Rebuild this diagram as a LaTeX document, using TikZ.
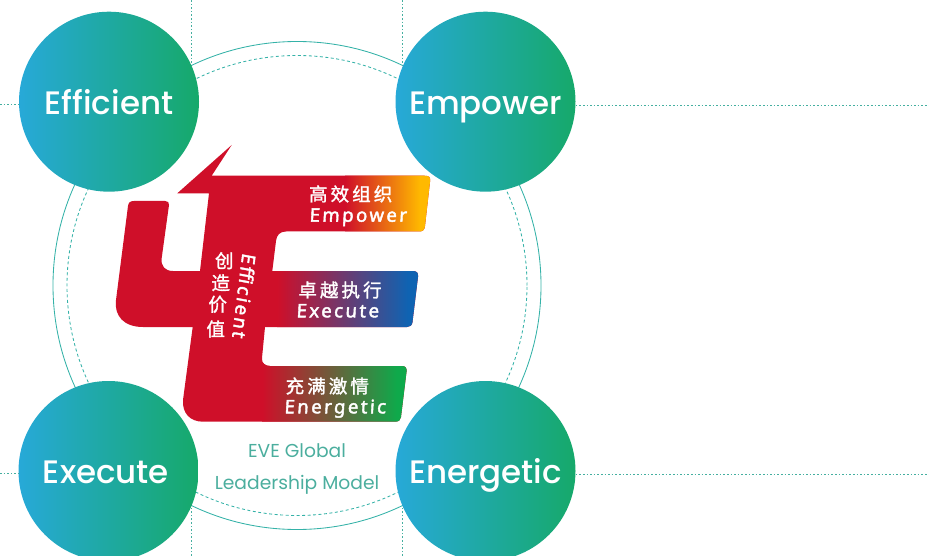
\documentclass[tikz,border=0pt]{standalone}
\usepackage{fontspec}
\setmainfont{Poppins}
\newfontfamily\bubf{Poppins Medium}
\newfontfamily\cjk[FakeBold=1.5]{Noto Sans CJK SC}
\newfontfamily\lat[FakeSlant=0.06,FakeBold=2.2,LetterSpace=13]{Noto Sans}
\definecolor{cblue}{HTML}{27A9D8}
\definecolor{cgreen}{HTML}{16A96A}
\definecolor{ring}{HTML}{35B2A8}
\definecolor{dots}{HTML}{45AFA0}
\definecolor{lab}{HTML}{4BAE9E}
\definecolor{redm}{HTML}{CF0F29}
\definecolor{amber}{HTML}{FFB900}
\definecolor{blu}{HTML}{0F63B2}
\definecolor{grn}{HTML}{0FA94B}
\tikzset{
  bub/.style={circle,minimum size=180pt,inner sep=0pt,left color=cblue,right color=cgreen,draw=none,text=white,text height=25pt,text depth=0pt,font=\bubf\fontsize{32.5}{33}\selectfont},
  dotline/.style={draw=dots,line width=0.9pt,dash pattern=on 1.6pt off 2pt},
  cn/.style={text=white,font=\cjk\fontsize{18.5}{19}\selectfont,inner sep=0pt},
  en/.style={text=white,font=\lat\fontsize{18.6}{19}\selectfont,inner sep=0pt},
  model/.style={text=lab,font=\fontsize{18.7}{19}\selectfont,inner sep=0pt,anchor=base}
}
\newcommand{\fourE}{(231.7,145) -- (211.7,175.7) -- (424,175.7)
  .. controls (429,175.7) and (431,177) .. (430,182) -- (425,226)
  .. controls (424.5,230) and (423,231.5) .. (419,231.5) -- (286,231.5)
  .. controls (280,231.5) and (276.5,235) .. (276,241) -- (272.3,271) -- (413,271)
  .. controls (417,271) and (418.5,273) .. (418,277) -- (412.5,322)
  .. controls (412,325.5) and (410,327) .. (407,327) -- (265,327) -- (262,358)
  .. controls (261.5,363) and (265,366) .. (270,366) -- (402,366)
  .. controls (405.5,366) and (407,368) .. (406.5,372) -- (401,417)
  .. controls (400.5,420) and (399,421.7) .. (395,421.7) -- (203,421.7)
  .. controls (190,421.7) and (182,413) .. (183,400) -- (192.7,327) -- (143,327)
  .. controls (124,327) and (114,316) .. (116,300) -- (128,206)
  .. controls (128.5,202.5) and (130,201) .. (134,201) -- (165,201)
  .. controls (168,201) and (169.2,202.5) .. (169,205) -- (161.7,258)
  .. controls (160.5,266) and (165,271) .. (173,271) -- (200,271) -- (209,193.3) -- (177.3,193.3) -- cycle}
\begin{document}
\begin{tikzpicture}[x=1pt,y=-1pt]
\useasboundingbox (0,0) rectangle (929,556);
\coordinate (c) at (297,285.5);
\node[circle,draw=ring,line width=0.85pt,minimum size=488pt,inner sep=0pt] (outer) at (c) {};
\node[circle,draw=ring,line width=0.85pt,dashed,dash pattern=on 3pt off 2.5pt,minimum size=460pt,inner sep=0pt] (inner) at (c) {};
\coordinate (t1) at (191,0); \coordinate (t1e) at (191,64);
\coordinate (t2) at (402.5,0); \coordinate (t2e) at (402.5,66);
\coordinate (b1) at (191,556); \coordinate (b1e) at (191,507);
\coordinate (b2) at (402.5,556); \coordinate (b2e) at (402.5,507);
\coordinate (l1) at (0,104); \coordinate (l2) at (0,473);
\coordinate (r1) at (929,105); \coordinate (r2) at (929,474);
\draw[dotline] (t1) -- (t1e);
\draw[dotline] (t2) -- (t2e);
\draw[dotline] (b1) -- (b1e);
\draw[dotline] (b2) -- (b2e);
\node[bub] (eff) at (109,101.7) {Efficient};
\node[bub] (emp) at (485.5,101.7) {Empower};
\node[bub] (exe) at (108.5,471) {\hspace*{-5pt}Execute};
\node[bub] (ene) at (485.5,471) {Energetic};
\draw[dotline] (l1) -- (l1 -| eff.west);
\draw[dotline] (l2) -- (l2 -| exe.west);
\draw[dotline] (emp.east |- r1) -- (r1);
\draw[dotline] (ene.east |- r2) -- (r2);
% red figure
\fill[redm] \fourE;
\begin{scope}
\clip \fourE;
\shade[left color=redm,right color=amber] (345,170) rectangle (420,235);
\fill[amber] (419.9,170) rectangle (435,235);
\shade[left color=redm,right color=blu] (277,268) rectangle (408,330);
\fill[blu] (407.9,268) rectangle (425,330);
\shade[left color=redm,right color=grn] (262,363) rectangle (397,425);
\fill[grn] (396.9,363) rectangle (410,425);
\end{scope}
\node[cn] (t1a) at (350.7,194) {高\,效\,组\,织};
\node[en,anchor=base] (t1b) at (358,221.7) {Empower};
\node[cn] (t2a) at (340,290) {卓\,越\,执\,行};
\node[en,anchor=base] (t2b) at (337.5,317.3) {Execute};
\node[cn] (t3a) at (327.3,386) {充\,满\,激\,情};
\node[en,anchor=base] (t3b) at (335,413.3) {Energetic};
\node[en,rotate=-97] (tv) at (244.3,295.7) {Efficient};
\node[cn] (v1) at (224.3,260.7) {创};
\node[cn] (v2) at (220.7,282.7) {造};
\node[cn] (v3) at (217.7,304.3) {价};
\node[cn] (v4) at (215.7,329) {值};
\node[model] (m1) at (297,457) {EVE Global};
\node[model] (m2) at (297,489) {Leadership Model};
\end{tikzpicture}
\end{document}
